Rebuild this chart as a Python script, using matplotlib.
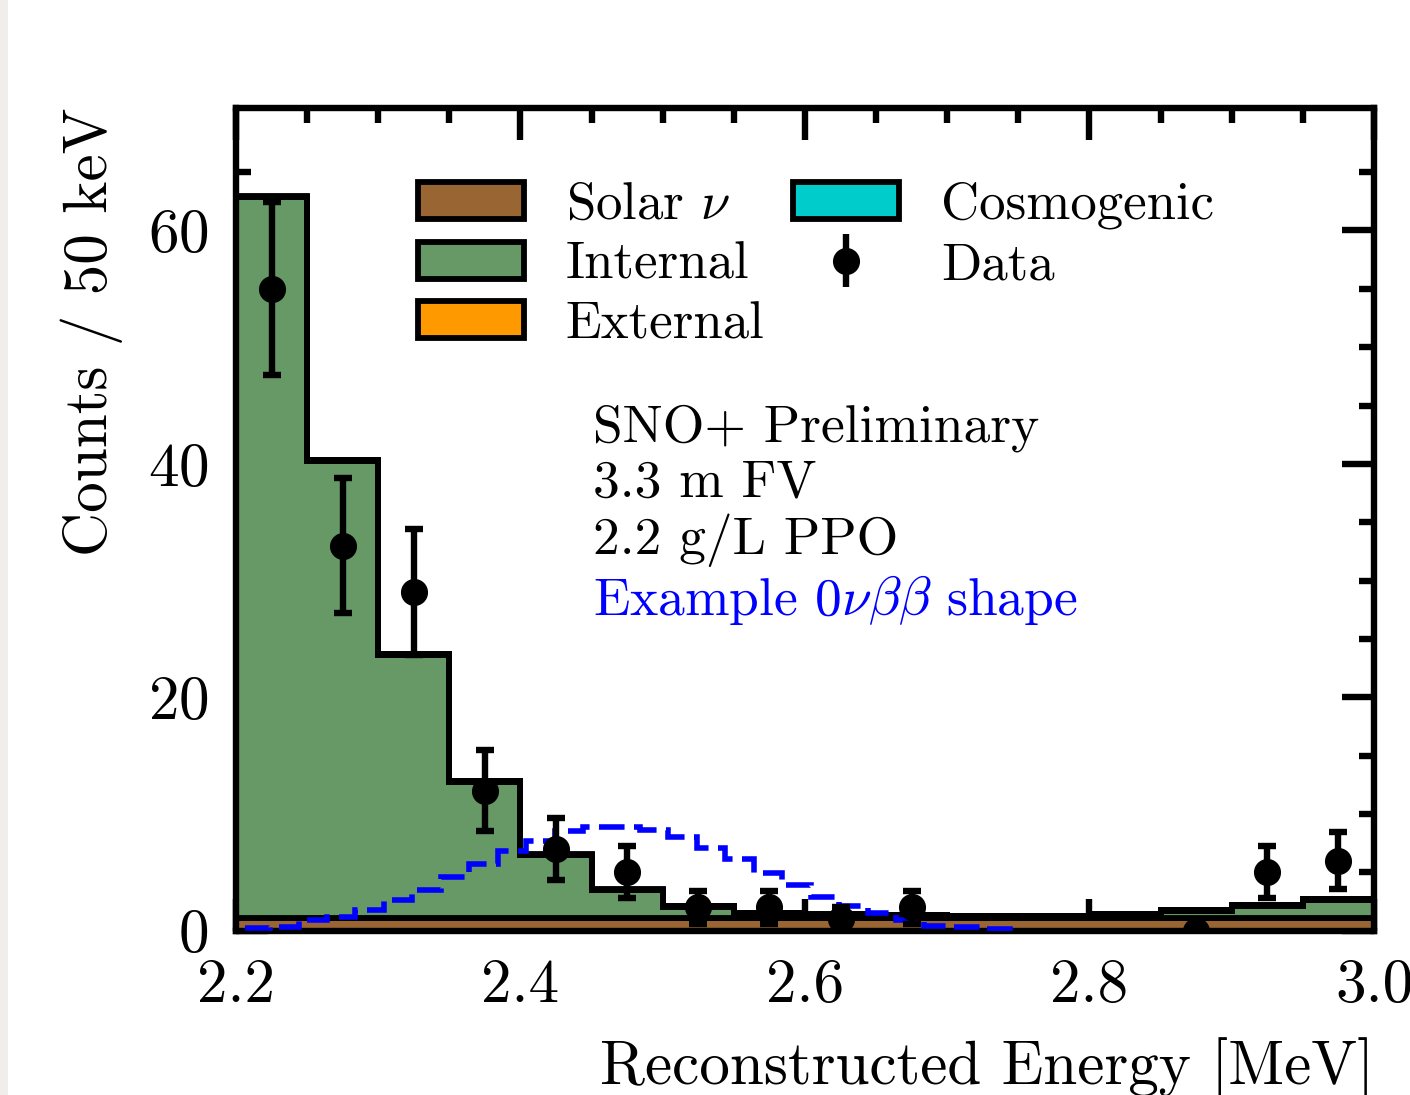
import numpy as np
import matplotlib
matplotlib.use('Agg')
import matplotlib.pyplot as plt
from matplotlib.patches import Patch, Rectangle

plt.rcParams['font.family'] = 'serif'
plt.rcParams['font.serif'] = ['cmr10']
plt.rcParams['mathtext.fontset'] = 'cm'
plt.rcParams['axes.unicode_minus'] = False
plt.rcParams['axes.formatter.use_mathtext'] = True

# 50 keV bins from 2.2 to 3.0 MeV
bin_edges = [2.20, 2.25, 2.30, 2.35, 2.40, 2.45, 2.50, 2.55, 2.60,
             2.65, 2.70, 2.75, 2.80, 2.85, 2.90, 2.95, 3.00]

# stacked background components (counts / bin)
solar = [1.05, 1.05, 1.05, 1.05, 1.05, 1.05, 1.05, 1.05,
         1.05, 1.05, 1.05, 1.05, 1.05, 1.05, 1.05, 1.05]
internal = [61.8, 39.2, 22.6, 11.7, 5.4, 2.4, 1.0, 0.4,
            0.3, 0.25, 0.15, 0.15, 0.3, 0.65, 1.05, 1.6]
external = [0.05, 0.05, 0.05, 0.05, 0.05, 0.05, 0.05, 0.05,
            0.05, 0.05, 0.05, 0.05, 0.05, 0.05, 0.05, 0.05]
cosmogenic = [0.02, 0.02, 0.02, 0.02, 0.02, 0.02, 0.02, 0.02,
              0.02, 0.02, 0.02, 0.02, 0.02, 0.02, 0.02, 0.02]

# data points
data_x = [2.225, 2.275, 2.325, 2.375, 2.425, 2.475, 2.525, 2.575,
          2.625, 2.675, 2.875, 2.925, 2.975]
data_y = [55, 33, 29, 12, 7, 5, 2, 2, 1, 2, 0, 5, 6]

# example 0vbb shape (20 keV binning)
shape_edges = [2.184, 2.204, 2.224, 2.244, 2.264, 2.284, 2.304, 2.324, 2.344,
               2.364, 2.384, 2.404, 2.424, 2.444, 2.464, 2.484, 2.504, 2.524,
               2.544, 2.564, 2.584, 2.604, 2.624, 2.644, 2.664, 2.684, 2.704,
               2.724, 2.744]
shape_vals = [0.25, 0.25, 0.3, 0.9, 1.2, 1.8, 2.6, 3.5, 4.6, 5.7, 6.8, 7.7,
              8.5, 8.9, 8.9, 8.65, 8.0, 7.1, 6.1, 4.9, 3.9, 2.9, 2.1, 1.5,
              0.9, 0.4, 0.3, 0.1]

c_solar = '#996633'
c_internal = '#669966'
c_external = '#ff9900'
c_cosmo = '#00cccc'

lw = 4.2
ebw = 4.6

fig = plt.figure(figsize=(14.1, 10.95), dpi=100)
fig.patches.append(Rectangle((0, 0), 8 / 1410, 1, transform=fig.transFigure,
                             facecolor='#efeeec', edgecolor='none', zorder=-1))
ax = fig.add_axes([236 / 1410, 1 - 930.5 / 1095, 1138 / 1410, 822.5 / 1095])

# stacked histogram
base = np.zeros(len(solar))
for vals, col in [(solar, c_solar), (internal, c_internal),
                  (external, c_external), (cosmogenic, c_cosmo)]:
    top = base + np.array(vals)
    ax.stairs(top, bin_edges, baseline=base, fill=True, facecolor=col,
              edgecolor='black', linewidth=lw, zorder=2)
    base = top

# 0vbb shape
ax.stairs(shape_vals, shape_edges, color='blue', linewidth=4.0,
          linestyle=(0, (4.6, 1.7)), zorder=3)

# data with Poisson errors
ax.errorbar(data_x, data_y, yerr=np.sqrt(data_y), fmt='o', color='black',
            markersize=18.5, elinewidth=ebw, capsize=6.5, capthick=ebw, zorder=4)

ax.set_xlim(2.2, 3.0)
ax.set_ylim(0, 70.5)
ax.set_xticks([2.2, 2.4, 2.6, 2.8, 3.0])
ax.set_xticklabels(['2.2', '2.4', '2.6', '2.8', '3.0'])
ax.set_xticks(np.arange(2.25, 3.0, 0.05), minor=True)
ax.set_yticks([0, 20, 40, 60])
ax.set_yticks(np.arange(5, 70, 5), minor=True)
ax.tick_params(which='both', direction='in', top=True, right=True,
               labelsize=44, width=4.6, pad=20)
ax.tick_params(which='major', length=23)
ax.tick_params(which='minor', length=11)
for s in ax.spines.values():
    s.set_linewidth(4.6)

ax.set_xlabel('Reconstructed Energy [MeV]', fontsize=44, loc='right', labelpad=17)
ax.set_ylabel('Counts / 50 keV', fontsize=44, loc='top', labelpad=18)

# legend
handles = [Patch(facecolor=c_solar, edgecolor='black', linewidth=lw),
           Patch(facecolor=c_internal, edgecolor='black', linewidth=lw),
           Patch(facecolor=c_external, edgecolor='black', linewidth=lw),
           Patch(facecolor=c_cosmo, edgecolor='black', linewidth=lw),
           plt.errorbar([], [], yerr=[], fmt='o', color='black', markersize=18.5,
                        elinewidth=ebw, capsize=6.5, capthick=ebw)]
labels = ['Solar $\\nu$', 'Internal', 'External', 'Cosmogenic', 'Data']
ax.legend(handles, labels, ncol=2, loc='upper left',
          bbox_to_anchor=((418 - 236) / 1138, (930.5 - 182) / 822.5),
          frameon=False, fontsize=38, handlelength=2.0, handleheight=0.7,
          handletextpad=0.8, columnspacing=0.55, labelspacing=0.24,
          borderpad=0, borderaxespad=0)

# annotations
tx = (593 - 236) / 1138
for txt, yc, col in [('SNO+ Preliminary', 428, 'black'),
                     ('3.3 m FV', 483, 'black'),
                     ('2.2 g/L PPO', 540, 'black'),
                     ('Example $0\\nu\\beta\\beta$ shape', 600, 'blue')]:
    ax.text(tx, (930.5 - yc) / 822.5, txt, transform=ax.transAxes,
            fontsize=38.5, color=col, va='center', ha='left')

fig.savefig('out.png', dpi=100)
